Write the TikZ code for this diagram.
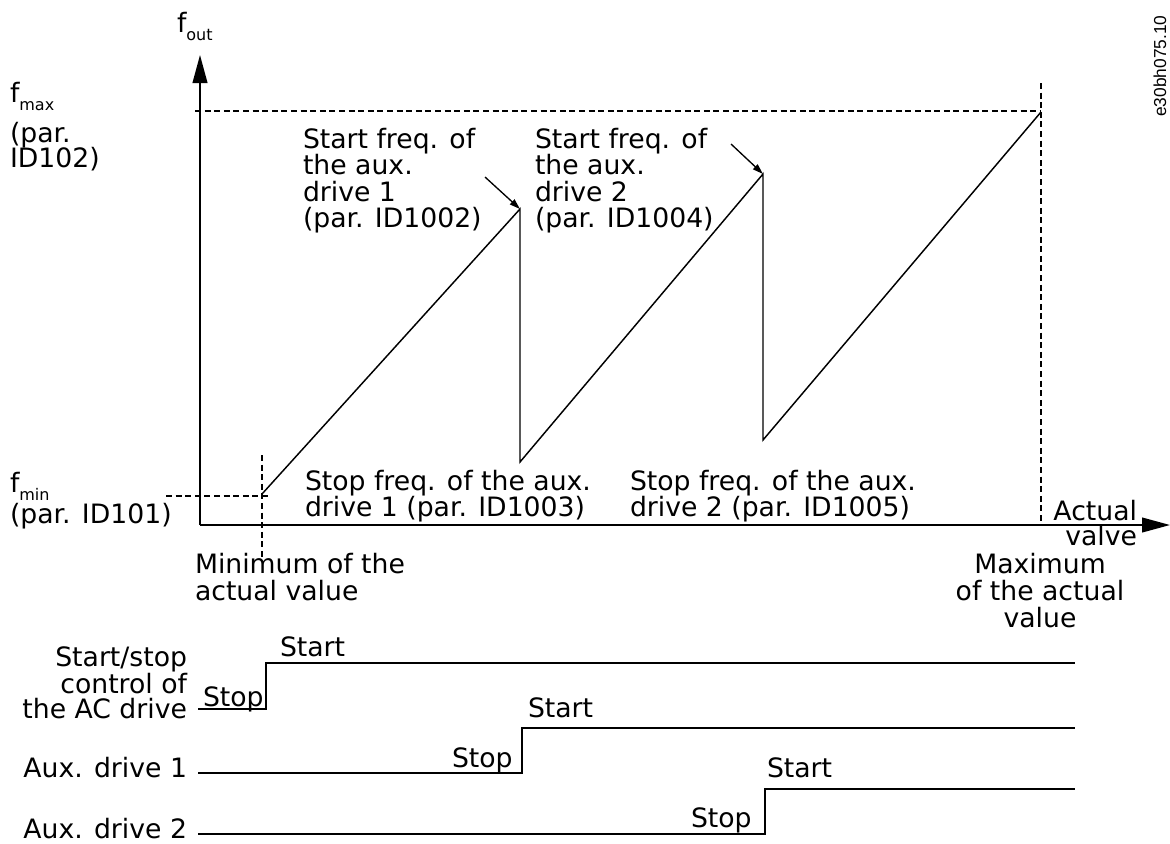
\documentclass[tikz,border=0pt]{standalone}
\usepackage{fontspec}
\setmainfont{DejaVu Sans}
\newfontfamily\codefont{Liberation Sans}
\usetikzlibrary{arrows.meta}
\newcommand\fsubs[1]{f\raisebox{-6pt}{\fontsize{12}{12}\selectfont #1}}
\begin{document}
\begin{tikzpicture}[x=0.75pt,y=-0.75pt,
  txt/.style={inner sep=0pt,outer sep=0pt,font=\fontsize{20}{20}\selectfont},
  axisln/.style={line width=1.5pt,-{Triangle[length=21pt,width=11pt]}},
  curveln/.style={line width=1.1pt,line join=miter},
  guide/.style={line width=1.1pt,dash pattern=on 4.5pt off 2.7pt},
  sigln/.style={line width=1.3pt},
  pointer/.style={line width=1pt,-{Triangle[length=8pt,width=5pt]}}]
\useasboundingbox (0,0) rectangle (1170,843);

% axes
\coordinate (O) at (200,525);
\coordinate (ytip) at (200,55);
\coordinate (xtip) at (1170,525);
\draw[axisln] (O) -- (ytip);
\draw[axisln] (O) -- (xtip);

% guide lines
\coordinate (fmaxL) at (195,111);
\coordinate (fmaxR) at (1041,111);
\coordinate (maxT) at (1041,83);
\coordinate (maxB) at (1041,525);
\coordinate (fminL) at (166,496);
\coordinate (fminR) at (268,496);
\coordinate (minT) at (262,455);
\coordinate (minB) at (262,557);
\draw[guide] (fmaxL) -- (fmaxR);
\draw[guide] (maxT) -- (maxB);
\draw[guide] (fminL) -- (fminR);
\draw[guide] (minT) -- (minB);

% sawtooth
\coordinate (p0) at (262,494);
\coordinate (p1) at (520,209);
\coordinate (q1) at (520,462);
\coordinate (p2) at (763,174);
\coordinate (q2) at (763,440);
\coordinate (p3) at (1041,112);
\draw[curveln] (p0) -- (p1) -- (q1) -- (p2) -- (q2) -- (p3);

% pointers
\coordinate (a1) at (485,177);
\coordinate (a2) at (731,144);
\draw[pointer] (a1) -- (p1);
\draw[pointer] (a2) -- (p2);

% axis labels
\node[txt,anchor=base west] (fout) at (177,32) {\fsubs{out}};
\node[txt,anchor=base west] (fmax1) at (10,102) {\fsubs{max}};
\node[txt,anchor=base west] (fmax2) at (10,142) {(par.};
\node[txt,anchor=base west] (fmax3) at (10,167) {ID102)};
\node[txt,anchor=base west] (fmin1) at (10,492) {\fsubs{min}};
\node[txt,anchor=base west] (fmin2) at (10,523) {(par. ID101)};

% start freq labels
\node[txt,anchor=base west] (s1a) at (303,148) {Start freq. of};
\node[txt,anchor=base west] (s1b) at (303,174) {the aux.};
\node[txt,anchor=base west] (s1c) at (303,201) {drive 1};
\node[txt,anchor=base west] (s1d) at (303,227) {(par. ID1002)};
\node[txt,anchor=base west] (s2a) at (535,148) {Start freq. of};
\node[txt,anchor=base west] (s2b) at (535,174) {the aux.};
\node[txt,anchor=base west] (s2c) at (535,201) {drive 2};
\node[txt,anchor=base west] (s2d) at (535,227) {(par. ID1004)};

% stop freq labels
\node[txt,anchor=base west] (t1a) at (305,490) {Stop freq. of the aux.};
\node[txt,anchor=base west] (t1b) at (305,516) {drive 1 (par. ID1003)};
\node[txt,anchor=base west] (t2a) at (630,490) {Stop freq. of the aux.};
\node[txt,anchor=base west] (t2b) at (630,516) {drive 2 (par. ID1005)};

% x axis labels
\node[txt,anchor=base east] (av1) at (1137,520) {Actual};
\node[txt,anchor=base east] (av2) at (1137,545) {valve};
\node[txt,anchor=base west] (mn1) at (195,573) {Minimum of the};
\node[txt,anchor=base west] (mn2) at (195,600) {actual value};
\node[txt,anchor=base] (mx1) at (1040,573) {Maximum};
\node[txt,anchor=base] (mx2) at (1040,600) {of the actual};
\node[txt,anchor=base] (mx3) at (1040,627) {value};

% timing signals
\coordinate (c0) at (198,709);
\coordinate (c1) at (266,709);
\coordinate (c2) at (266,663);
\coordinate (c3) at (1075,663);
\draw[sigln] (c0) -- (c1) -- (c2) -- (c3);
\coordinate (d0) at (198,773);
\coordinate (d1) at (522,773);
\coordinate (d2) at (522,728);
\coordinate (d3) at (1075,728);
\draw[sigln] (d0) -- (d1) -- (d2) -- (d3);
\coordinate (e0) at (198,834);
\coordinate (e1) at (765,834);
\coordinate (e2) at (765,789);
\coordinate (e3) at (1075,789);
\draw[sigln] (e0) -- (e1) -- (e2) -- (e3);

\node[txt,anchor=base east] (ss1) at (187,666) {Start/stop};
\node[txt,anchor=base east] (ss2) at (187,693) {control of};
\node[txt,anchor=base east] (ss3) at (187,718) {the AC drive};
\node[txt,anchor=base east] (ad1) at (187,777) {Aux. drive 1};
\node[txt,anchor=base east] (ad2) at (187,838) {Aux. drive 2};

\node[txt,anchor=base west] (cstop) at (203,706) {Stop};
\node[txt,anchor=base west] (cstart) at (280,656) {Start};
\node[txt,anchor=base west] (dstop) at (452,767) {Stop};
\node[txt,anchor=base west] (dstart) at (528,717) {Start};
\node[txt,anchor=base west] (estop) at (691,827) {Stop};
\node[txt,anchor=base west] (estart) at (767,777) {Start};

% drawing code
\node[rotate=90,anchor=base west,inner sep=0pt,font=\codefont\fontsize{13}{13}\selectfont] (code) at (1166,117) {e30bh075.10};
\end{tikzpicture}
\end{document}
